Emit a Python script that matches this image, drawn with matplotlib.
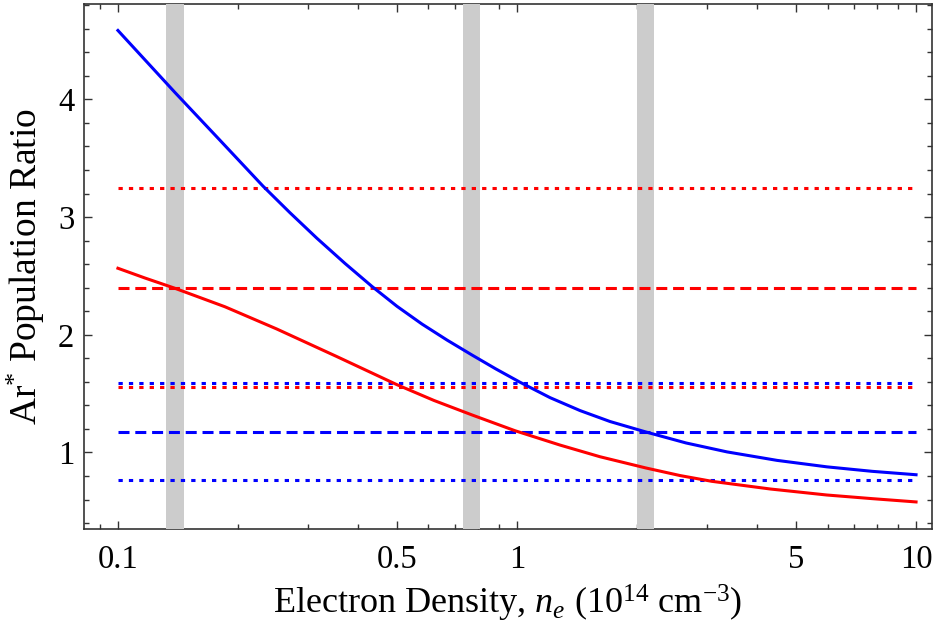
import numpy as np
import matplotlib.pyplot as plt
from matplotlib.ticker import FixedLocator, FixedFormatter, NullFormatter

plt.rcParams['font.family'] = ['Liberation Serif', 'DejaVu Serif']
plt.rcParams['mathtext.fontset'] = 'custom'
plt.rcParams['mathtext.rm'] = 'Liberation Serif'
plt.rcParams['mathtext.it'] = 'Liberation Serif:italic'

# curves
blue_x = [0.1, 0.1389, 0.1801, 0.2309, 0.2698, 0.3152, 0.3707, 0.433, 0.5003, 0.578,
          0.6679, 0.7714, 0.885, 1.0174, 1.21, 1.439, 1.711, 2.105, 2.652, 3.36,
          4.484, 5.98, 7.76, 10.0]
blue_y = [4.585, 4.059, 3.653, 3.263, 3.037, 2.820, 2.606, 2.411, 2.242, 2.091,
          1.955, 1.828, 1.710, 1.597, 1.466, 1.356, 1.263, 1.174, 1.081, 1.005,
          0.933, 0.878, 0.840, 0.811]

red_x = [0.1, 0.1169, 0.1384, 0.1854, 0.2497, 0.353, 0.4995, 0.6194, 0.77, 0.9886,
         1.282, 1.614, 2.101, 2.563, 3.08, 4.31, 5.97, 7.76, 10.0]
red_y = [2.565, 2.482, 2.397, 2.238, 2.050, 1.816, 1.577, 1.442, 1.320, 1.185,
         1.063, 0.964, 0.869, 0.804, 0.755, 0.690, 0.639, 0.608, 0.580]

# horizontal reference levels
red_dotted = [3.25, 1.554]
red_dashed = [2.40]
blue_dotted = [1.588, 0.763]
blue_dashed = [1.175]

# gray bands (centre positions)
band_centers = [0.139, 0.77, 2.1]

x_lo, x_hi = 0.1, 10.0

fig = plt.figure(figsize=(9.37, 6.3), dpi=100)
ax = fig.add_axes([0.0896, 0.1603, 0.905, 0.8334])

half = 10 ** 0.0215
for c in band_centers:
    ax.axvspan(c / half, c * half, color='#cccccc', lw=0, zorder=3)

lw = 2.2
dot = (0, (1.4, 2.0))
dash = (0, (3.6, 1.9))
for v in red_dotted:
    ax.plot([x_lo, x_hi], [v, v], color='red', lw=lw, ls=dot, zorder=4)
for v in red_dashed:
    ax.plot([x_lo, x_hi], [v, v], color='red', lw=lw, ls=dash, zorder=4)
for v in blue_dotted:
    ax.plot([x_lo, x_hi], [v, v], color='blue', lw=lw, ls=dot, zorder=4)
for v in blue_dashed:
    ax.plot([x_lo, x_hi], [v, v], color='blue', lw=lw, ls=dash, zorder=4)

ax.plot(blue_x, blue_y, color='blue', lw=lw, zorder=5, solid_joinstyle='round')
ax.plot(red_x, red_y, color='red', lw=lw, zorder=5, solid_joinstyle='round')

ax.set_xscale('log')
ax.set_xlim(0.0822, 10.96)
ax.set_ylim(0.35, 4.81)

major_x = [0.1, 0.5, 1, 5, 10]
minor_x = [0.09, 0.2, 0.3, 0.4, 0.6, 0.7, 0.8, 0.9, 2, 3, 4, 6, 7, 8, 9]
ax.xaxis.set_major_locator(FixedLocator(major_x))
ax.xaxis.set_major_formatter(FixedFormatter(['0.1', '0.5', '1', '5', '10']))
ax.xaxis.set_minor_locator(FixedLocator(minor_x))
ax.xaxis.set_minor_formatter(NullFormatter())

ax.yaxis.set_major_locator(FixedLocator([1, 2, 3, 4]))
ax.yaxis.set_minor_locator(FixedLocator(np.arange(0.4, 4.81, 0.2)))

ax.tick_params(which='both', direction='in', top=True, right=True, labelsize=23.5,
               color='#333333', width=1)
ax.tick_params(which='major', length=6)
ax.tick_params(which='minor', length=3.5)
ax.tick_params(axis='x', which='major', pad=11)
ax.tick_params(axis='y', which='major', pad=7)
for s in ax.spines.values():
    s.set_color('#333333')
    s.set_linewidth(1.2)

ax.set_xlabel('Electron Density, $n_e$ ($10^{14}$ cm$^{-3}$)', fontsize=26, labelpad=6)
ax.set_ylabel('Ar$^{*}$ Population Ratio', fontsize=27, labelpad=8)

fig.savefig('out.png', dpi=100)
